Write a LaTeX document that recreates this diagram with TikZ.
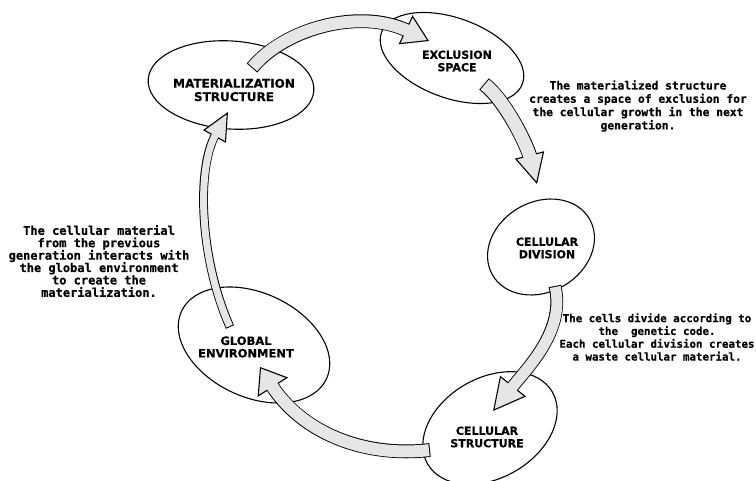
\documentclass[tikz,border=0pt]{standalone}
\usepackage{fontspec}
\setmainfont{DejaVu Sans}
\newfontfamily\descfont{DejaVu Sans Mono}[BoldFeatures={FakeBold=0.6}]
\newfontfamily\lblfont{DejaVu Sans}[BoldFeatures={FakeBold=0.5}]
\usetikzlibrary{shapes.geometric,arrows.meta,calc}
\definecolor{arrowfill}{HTML}{E6E6E6}
\tikzset{
  cell/.style={ellipse, draw=black, line width=1.1pt, inner sep=0pt},
  lbl/.style={font=\lblfont\bfseries\fontsize{11}{12.5}\selectfont, align=center, inner sep=0pt},
  desc/.style={font=\descfont\bfseries\fontsize{11.3}{13.3}\selectfont, align=center, inner sep=0pt},
  shaftedge/.style={draw=black},
  shafttip/.style={draw=arrowfill, line width=0.4pt, shorten <=1pt},
  shaftbody/.style={draw=arrowfill}
}
\newcommand\fatarrow[4]{%
  \draw[shaftedge, line width=#1pt+1.8pt, shorten >=#2pt-2pt] #4;
  \draw[shafttip, -{Triangle[length=#2pt, width=#3pt, fill=arrowfill, color=black, line width=1.1pt]}] #4;
  \draw[shaftbody, line width=#1pt, shorten >=#2pt-3pt, shorten <=1pt] #4;
}
\begin{document}
\begin{tikzpicture}[x=1pt, y=-1pt]
\useasboundingbox (0,0) rectangle (756,481);
% ellipses
\node[cell, minimum width=166pt, minimum height=88pt, rotate=-4] (mat) at (231,85) {};
\node[cell, minimum width=150pt, minimum height=80pt, rotate=-20] (exc) at (452,58) {};
\node[cell, minimum width=112pt, minimum height=90pt, rotate=30] (div) at (541,247) {};
\node[cell, minimum width=144pt, minimum height=100pt, rotate=30] (str) at (490,428) {};
\node[cell, minimum width=160pt, minimum height=104pt, rotate=-25] (glob) at (254,345) {};
% labels
\node[lbl, font=\lblfont\bfseries\fontsize{12}{13.3}\selectfont] (matl) at (234,90) {MATERIALIZATION\\STRUCTURE};
\node[lbl] (excl) at (457,61) {EXCLUSION\\SPACE};
\node[lbl] (divl) at (547,248) {CELLULAR\\DIVISION};
\node[lbl] (strl) at (487,437) {CELLULAR\\STRUCTURE};
\node[lbl, font=\lblfont\bfseries\fontsize{11.5}{12.5}\selectfont] (globl) at (246,347) {GLOBAL\\ENVIRONMENT};
% descriptions
\node[desc] (d1) at (638,106) {The materialized structure\\creates a space of exclusion for\\the cellular growth in the next\\generation.};
\node[desc, font=\descfont\bfseries\fontsize{10.8}{12.8}\selectfont] (d2) at (657,337) {The cells divide according to\\the\ \ genetic code.\\Each cellular division creates\\a waste cellular material.};
\node[desc, font=\descfont\bfseries\fontsize{12}{12.4}\selectfont] (d3) at (99,261) {The cellular material\\from the previous\\generation interacts with\\the global environment\\to create the\\materialization.};
% arrows
\fatarrow{12}{26}{32}{($(mat)+(21,-17)$) .. controls (285,28) and (360,8) .. ($(exc)+(-23,-17)$)}
\fatarrow{13}{30}{30}{($(exc)+(32,26)$) .. controls (505,100) and (527,145) .. ($(div)+(-4,-63)$)}
\fatarrow{11}{32}{33}{($(div)+(14,39)$) .. controls (565,330) and (530,365) .. ($(str)+(3,-17)$)}
\fatarrow{12}{24}{36}{($(str)+(-60,22)$) .. controls (360,458) and (300,430) .. ($(glob)+(6,22)$)}
\fatarrow{7}{28}{26}{($(glob)+(-24,-18)$) .. controls (200,260) and (196,170) .. ($(mat)+(-3,27)$)}
\end{tikzpicture}
\end{document}
